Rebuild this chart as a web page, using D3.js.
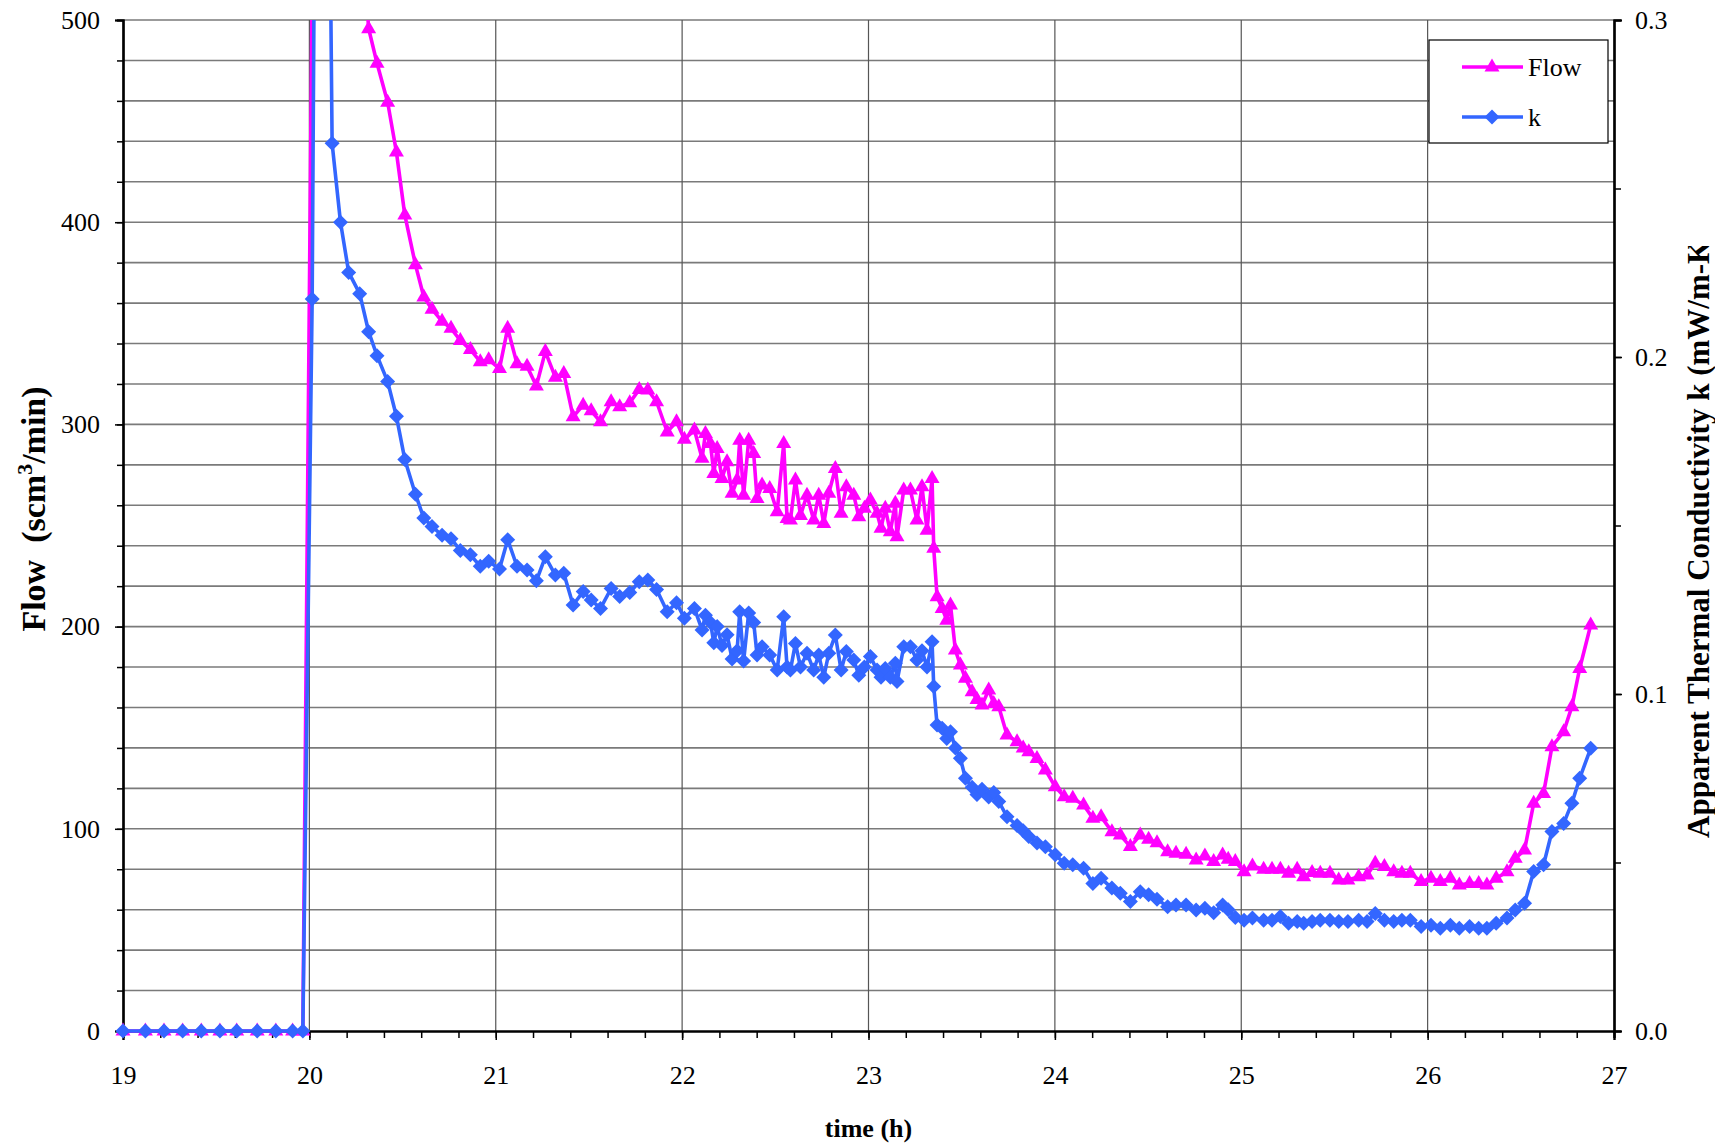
<!DOCTYPE html>
<html>
<head>
<meta charset="utf-8">
<script src="https://cdn.jsdelivr.net/npm/d3@7"></script>
<style>
  body { margin: 0; background: #fff; }
  text { font-family: "Liberation Serif", "Times New Roman", serif; fill: #000; }
</style>
</head>
<body>
<div id="chart"></div>
<script>
// time (h)
const time = [
  19.00, 19.12, 19.22, 19.32, 19.42, 19.52, 19.61, 19.72, 19.82, 19.91, 19.965,
  20.015, 20.06, 20.122, 20.167, 20.211, 20.27, 20.318, 20.363, 20.42, 20.467,
  20.512, 20.569, 20.614, 20.658, 20.712, 20.76, 20.81, 20.864, 20.917, 20.962,
  21.02, 21.064, 21.114, 21.168, 21.218, 21.266, 21.32, 21.365, 21.415, 21.469,
  21.512, 21.562, 21.619, 21.665, 21.719, 21.77, 21.816, 21.863, 21.92, 21.97,
  22.012, 22.066, 22.107, 22.125, 22.152, 22.17, 22.188, 22.214, 22.241, 22.268,
  22.295, 22.309, 22.33, 22.357, 22.384, 22.402, 22.429, 22.47, 22.51, 22.545,
  22.563, 22.581, 22.608, 22.635, 22.67, 22.706, 22.733, 22.76, 22.787, 22.822,
  22.853, 22.881, 22.921, 22.948, 22.978, 23.01, 23.046, 23.067, 23.09, 23.117,
  23.144, 23.153, 23.189, 23.225, 23.26, 23.287, 23.314, 23.341, 23.35, 23.368,
  23.395, 23.42, 23.44, 23.466, 23.493, 23.52, 23.556, 23.582, 23.609, 23.645,
  23.672, 23.699, 23.743, 23.797, 23.83, 23.86, 23.904, 23.949, 24.002, 24.05,
  24.096, 24.154, 24.204, 24.248, 24.306, 24.351, 24.405, 24.458, 24.503, 24.548,
  24.605, 24.65, 24.704, 24.758, 24.805, 24.852, 24.9, 24.93, 24.968, 25.015,
  25.06, 25.12, 25.165, 25.21, 25.254, 25.3, 25.335, 25.38, 25.424, 25.476,
  25.523, 25.572, 25.63, 25.675, 25.719, 25.768, 25.818, 25.862, 25.907, 25.965,
  26.018, 26.068, 26.122, 26.17, 26.225, 26.274, 26.318, 26.368, 26.426, 26.47,
  26.52, 26.569, 26.622, 26.667, 26.73, 26.774, 26.816, 26.875
];

// Flow (scm3/min)
const flow = [
  0, 0, 0, 0, 0, 0, 0, 0, 0, 0, 0,
  520, 1500, 700, 640, 590, 560, 495.7, 478.6, 459.3, 434.7,
  403.6, 379, 363, 357, 351, 347.5, 341.5, 337, 331, 332,
  327.6, 347.5, 330, 328.7, 319, 336, 323.3, 325.2, 303.8, 309.5,
  306.7, 301.3, 311.2, 308.7, 310.7, 317.3, 317, 311.2, 296.3, 301.3,
  292.6, 297.2, 283.2, 295.5, 290.6, 275.7, 288.1, 273.3, 281.5, 265.9,
  272.5, 292.2, 265, 292.2, 285.6, 263.4, 270, 268.3, 256.8, 290.6,
  253.5, 252.7, 272.5, 255, 265, 252.7, 265, 251, 265.9, 278.2,
  256, 269.2, 265, 254.3, 258.5, 262.6, 256, 248.6, 258.5, 246.9,
  261, 244.4, 267.5, 267.5, 252.7, 269.2, 247.7, 273.3, 238.7, 214.8,
  209, 203.2, 210.7, 188.4, 181, 174.4, 167.8, 164, 161.2, 168.6,
  162, 160.4, 146.4, 143.1, 140, 138.1, 134.8, 129.1, 120.8, 115.9,
  115.1, 111.8, 105.2, 106, 98.6, 96.9, 91.2, 96.9, 94.8, 93.1,
  88.7, 87.9, 87.4, 84.6, 86.6, 83.8, 87.1, 85, 83.8, 78.8,
  81.6, 80, 80, 80, 78, 80, 76.3, 78.4, 78, 78,
  74.7, 74.7, 76.3, 77.2, 83, 81.3, 78.8, 78, 78, 73.9,
  75.5, 73.9, 75.5, 72.2, 73, 73, 72.2, 75.5, 78.8, 85.4,
  89.5, 112.6, 117.5, 140.6, 148, 160.4, 179.3, 200.8
];

// Apparent thermal conductivity k (mW/m-K)
const k = [
  0, 0, 0, 0, 0, 0, 0, 0, 0, 0, 0,
  0.2172, 0.6222, 0.2634, 0.2400, 0.2251, 0.2188, 0.2075, 0.2004, 0.1927, 0.1824,
  0.1696, 0.1593, 0.1522, 0.1497, 0.1471, 0.1461, 0.1426, 0.1413, 0.1379, 0.1394,
  0.1371, 0.1458, 0.1379, 0.1368, 0.1336, 0.1407, 0.1353, 0.1358, 0.1264, 0.1304,
  0.1279, 0.1254, 0.1313, 0.1289, 0.1301, 0.1333, 0.1338, 0.1310, 0.1244, 0.1271,
  0.1225, 0.1254, 0.1190, 0.1234, 0.1212, 0.1152, 0.1200, 0.1144, 0.1176, 0.1104,
  0.1128, 0.1244, 0.1098, 0.1240, 0.1212, 0.1116, 0.1140, 0.1116, 0.1071, 0.1229,
  0.1080, 0.1071, 0.1150, 0.1080, 0.1121, 0.1071, 0.1116, 0.1050, 0.1121, 0.1175,
  0.1071, 0.1126, 0.1101, 0.1056, 0.1080, 0.1111, 0.1071, 0.1050, 0.1076, 0.1050,
  0.1091, 0.1037, 0.1140, 0.1140, 0.1101, 0.1128, 0.1080, 0.1155, 0.1022, 0.0908,
  0.0898, 0.0868, 0.0888, 0.0840, 0.0809, 0.0750, 0.0723, 0.0702, 0.0717, 0.0694,
  0.0708, 0.0681, 0.0636, 0.0610, 0.0594, 0.0577, 0.0558, 0.0547, 0.0523, 0.0498,
  0.0493, 0.0483, 0.0438, 0.0453, 0.0424, 0.0409, 0.0384, 0.0413, 0.0404, 0.0391,
  0.0369, 0.0374, 0.0374, 0.0359, 0.0364, 0.0351, 0.0374, 0.0360, 0.0337, 0.0329,
  0.0335, 0.0329, 0.0329, 0.0340, 0.0320, 0.0325, 0.0320, 0.0325, 0.0329, 0.0329,
  0.0325, 0.0325, 0.0329, 0.0325, 0.0349, 0.0329, 0.0325, 0.0329, 0.0329, 0.0310,
  0.0314, 0.0305, 0.0314, 0.0305, 0.0310, 0.0305, 0.0305, 0.0320, 0.0335, 0.0359,
  0.0379, 0.0473, 0.0493, 0.0592, 0.0616, 0.0676, 0.0750, 0.0839
];

const xTicks = [19, 20, 21, 22, 23, 24, 25, 26, 27];
const flowTicks = [0, 100, 200, 300, 400, 500];
const kTicks = [0, 0.1, 0.2, 0.3];
const seriesNames = ["Flow", "k"];

const flowColor = "#ff00ff", kColor = "#3366ff";

const margin = {top: 20, right: 101, bottom: 114, left: 123},
  width = 1715 - margin.left - margin.right,
  height = 1145 - margin.top - margin.bottom;

const root = d3.select("#chart")
  .append("svg")
  .attr("width", 1715)
  .attr("height", 1145);

const svg = root.append("g")
  .attr("transform", `translate(${margin.left}, ${margin.top})`);

const x = d3.scaleLinear().domain([19, 27]).range([0, width]);
const yL = d3.scaleLinear().domain([0, 500]).range([height, 0]);
const yR = d3.scaleLinear().domain([0, 0.3]).range([height, 0]);

// horizontal gridlines every 20
svg.append("g")
  .selectAll("line")
  .data(d3.range(20, 501, 20))
  .join("line")
    .attr("x1", 0).attr("x2", width)
    .attr("y1", d => yL(d)).attr("y2", d => yL(d))
    .attr("stroke", "#7a7a7a")
    .attr("stroke-width", 1.6);

// vertical gridlines each hour
svg.append("g")
  .selectAll("line")
  .data(xTicks.slice(1, -1))
  .join("line")
    .attr("x1", d => x(d)).attr("x2", d => x(d))
    .attr("y1", 0).attr("y2", height)
    .attr("stroke", "#555")
    .attr("stroke-width", 1.2);

function styleAxis(g) {
  g.select(".domain").attr("stroke", "#000").attr("stroke-width", 2.2);
  g.selectAll(".tick line").attr("stroke", "#000").attr("stroke-width", 1.5);
  g.selectAll(".tick text").style("font-size", "26px").attr("fill", "#000");
}

// minor ticks
svg.append("g")
  .call(d3.axisLeft(yL).tickValues(d3.range(0, 501, 20)).tickSize(6).tickFormat(""))
  .call(styleAxis);
svg.append("g")
  .attr("transform", `translate(${width}, 0)`)
  .call(d3.axisRight(yR).tickValues(d3.range(0, 0.31, 0.05)).tickSize(7).tickFormat(""))
  .call(styleAxis);
svg.append("g")
  .attr("transform", `translate(0, ${height})`)
  .call(d3.axisBottom(x).tickValues(d3.range(19, 27.01, 0.2)).tickSize(7).tickFormat(""))
  .call(styleAxis);

// major axes
svg.append("g")
  .call(d3.axisLeft(yL).tickValues(flowTicks).tickSize(8).tickPadding(15))
  .call(styleAxis);
svg.append("g")
  .attr("transform", `translate(${width}, 0)`)
  .call(d3.axisRight(yR).tickValues(kTicks).tickSize(8).tickPadding(13).tickFormat(d3.format(".1f")))
  .call(styleAxis);
svg.append("g")
  .attr("transform", `translate(0, ${height})`)
  .call(d3.axisBottom(x).tickValues(xTicks).tickSize(9).tickPadding(26).tickFormat(d3.format("d")))
  .call(styleAxis);

// clip lines at top of plot area
svg.append("clipPath").attr("id", "plotClip")
  .append("rect")
    .attr("x", -20).attr("y", 0)
    .attr("width", width + 40).attr("height", height + 30);

const triangle = "M0,-8.5L7.5,4.5L-7.5,4.5Z";
const diamond = "M0,-7.5L7.5,0L0,7.5L-7.5,0Z";

const flowData = time.map((t, i) => ({t: t, v: flow[i]}));
const kData = time.map((t, i) => ({t: t, v: k[i]}));

const plot = svg.append("g").attr("clip-path", "url(#plotClip)");

plot.append("path")
  .datum(flowData)
  .attr("fill", "none")
  .attr("stroke", flowColor)
  .attr("stroke-width", 3.6)
  .attr("stroke-linejoin", "round")
  .attr("d", d3.line().x(d => x(d.t)).y(d => yL(d.v)));

plot.append("g")
  .selectAll("path")
  .data(flowData)
  .join("path")
    .attr("d", triangle)
    .attr("transform", d => `translate(${x(d.t)}, ${yL(d.v)})`)
    .attr("fill", flowColor);

plot.append("path")
  .datum(kData)
  .attr("fill", "none")
  .attr("stroke", kColor)
  .attr("stroke-width", 3.6)
  .attr("stroke-linejoin", "round")
  .attr("d", d3.line().x(d => x(d.t)).y(d => yR(d.v)));

plot.append("g")
  .selectAll("path")
  .data(kData)
  .join("path")
    .attr("d", diamond)
    .attr("transform", d => `translate(${x(d.t)}, ${yR(d.v)})`)
    .attr("fill", kColor);

// axis titles
root.append("text")
  .attr("x", margin.left + width / 2)
  .attr("y", 1137)
  .attr("text-anchor", "middle")
  .style("font-size", "26px")
  .style("font-weight", "bold")
  .text("time (h)");

const leftTitle = root.append("text")
  .attr("transform", `translate(45, 509) rotate(-90)`)
  .attr("text-anchor", "middle")
  .style("font-size", "34px")
  .style("font-weight", "bold");
leftTitle.append("tspan").text("Flow\u00a0\u00a0(scm");
leftTitle.append("tspan").attr("dy", -13).style("font-size", "22px").text("3");
leftTitle.append("tspan").attr("dy", 13).text("/min)");

// right title, cut off at the top like the original
root.append("clipPath").attr("id", "rtClip")
  .append("rect").attr("x", 1640).attr("y", 246).attr("width", 80).attr("height", 700);

root.append("g")
  .attr("clip-path", "url(#rtClip)")
  .append("text")
    .attr("transform", `translate(1709, 838) rotate(-90)`)
    .attr("text-anchor", "start")
    .style("font-size", "31px")
    .style("font-weight", "bold")
    .text("Apparent Thermal Conductivity k (mW/m-K)");

// legend
const legend = root.append("g").attr("transform", "translate(1429, 40)");
legend.append("rect")
  .attr("width", 179).attr("height", 103)
  .attr("fill", "#fff")
  .attr("stroke", "#000")
  .attr("stroke-width", 1.2);

const legendRows = [
  {name: seriesNames[0], color: flowColor, shape: triangle, y: 27},
  {name: seriesNames[1], color: kColor, shape: diamond, y: 77}
];
legendRows.forEach(r => {
  legend.append("line")
    .attr("x1", 33).attr("x2", 94)
    .attr("y1", r.y).attr("y2", r.y)
    .attr("stroke", r.color).attr("stroke-width", 3.6);
  legend.append("path")
    .attr("d", r.shape)
    .attr("transform", `translate(63, ${r.y})`)
    .attr("fill", r.color);
  legend.append("text")
    .attr("x", 99).attr("y", r.y + 9)
    .style("font-size", "26px")
    .text(r.name);
});
</script>
</body>
</html>
